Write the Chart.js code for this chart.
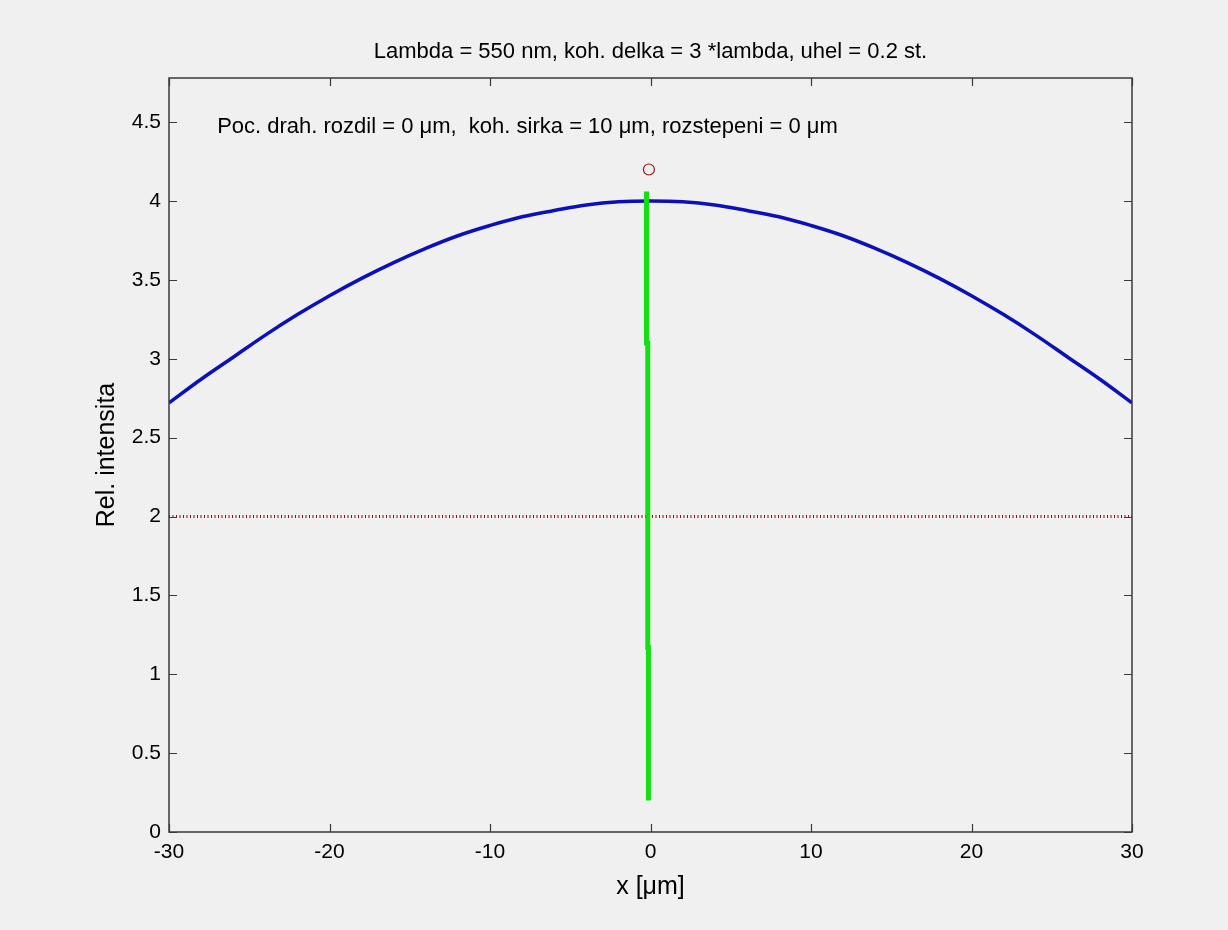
<!DOCTYPE html>
<html>
<head>
<meta charset="utf-8">
<script src="https://cdn.jsdelivr.net/npm/chart.js@4"></script>
<style>
html,body{margin:0;padding:0;background:#f0f0f0;}
canvas{display:block;}
</style>
</head>
<body>
<canvas id="c" width="1228" height="930"></canvas>
<script>
// ---- data ----
const titleText = "Lambda = 550 nm, koh. delka = 3 *lambda, uhel = 0.2 st.";
const noteText = "Poc. drah. rozdil = 0 \u03bcm,  koh. sirka = 10 \u03bcm, rozstepeni = 0 \u03bcm";
const xTicks = [-30, -20, -10, 0, 10, 20, 30];
const yTicks = [0, 0.5, 1, 1.5, 2, 2.5, 3, 3.5, 4, 4.5];
const curveX = [-30, -28, -26, -24, -22, -20, -18, -16, -14, -12, -10, -8, -6, -4, -2, 0, 2, 4, 6, 8, 10, 12, 14, 16, 18, 20, 22, 24, 26, 28, 30];
const curveY = [2.72, 2.87, 3.01, 3.15, 3.28, 3.40, 3.51, 3.61, 3.70, 3.78, 3.845, 3.90, 3.94, 3.975, 3.995, 4.00, 3.995, 3.975, 3.94, 3.90, 3.845, 3.78, 3.70, 3.61, 3.51, 3.40, 3.28, 3.15, 3.01, 2.87, 2.72];
const greenX = [-0.25, -0.25, -0.17, -0.17, -0.13, -0.13];
const greenY = [4.06, 3.10, 3.10, 1.17, 1.17, 0.20];
const levelX = [-30, 30];
const levelY = [2, 2];
const markX = [-0.1];
const markY = [4.2];

const toPts = (xs, ys) => xs.map((x, i) => ({x: x, y: ys[i]}));

const FONT = "'Liberation Sans', Arial, Helvetica, sans-serif";

const boxPlugin = {
  id: 'box',
  afterDatasetsDraw(chart) {
    const ctx = chart.ctx, a = chart.chartArea;
    const xs = chart.scales.x, ys = chart.scales.y;
    ctx.save();
    ctx.strokeStyle = '#3a3a3a';
    ctx.lineWidth = 1.5;
    ctx.strokeRect(a.left, a.top, a.right - a.left, a.bottom - a.top);
    ctx.lineWidth = 1.2;
    const tl = 8;
    ctx.beginPath();
    xTicks.forEach(v => {
      const px = Math.round(xs.getPixelForValue(v)) + 0.5;
      ctx.moveTo(px, a.bottom); ctx.lineTo(px, a.bottom - tl);
      ctx.moveTo(px, a.top); ctx.lineTo(px, a.top + tl);
    });
    yTicks.forEach(v => {
      const py = Math.round(ys.getPixelForValue(v)) + 0.5;
      ctx.moveTo(a.left, py); ctx.lineTo(a.left + tl, py);
      ctx.moveTo(a.right, py); ctx.lineTo(a.right - tl, py);
    });
    ctx.stroke();
    // title and note text
    ctx.fillStyle = '#000';
    ctx.font = "22px " + FONT;
    ctx.textAlign = 'center';
    ctx.textBaseline = 'middle';
    ctx.fillText(titleText, (a.left + a.right) / 2, 52);
    ctx.textAlign = 'left';
    ctx.fillText(noteText, xs.getPixelForValue(-27.0), ys.getPixelForValue(4.47));
    ctx.restore();
  }
};

new Chart(document.getElementById('c'), {
  type: 'scatter',
  data: {
    datasets: [
      {
        label: 'intensita',
        data: toPts(curveX, curveY),
        showLine: true,
        borderColor: '#0c10b8',
        borderWidth: 3.5,
        pointRadius: 0,
        tension: 0.4,
        order: 3
      },
      {
        label: 'uroven',
        data: toPts(levelX, levelY),
        showLine: true,
        borderColor: '#8a0c0c',
        borderWidth: 3,
        borderDash: [1, 2.5],
        pointRadius: 0,
        order: 2
      },
      {
        label: 'stred',
        data: toPts(greenX, greenY),
        showLine: true,
        borderColor: '#12e012',
        borderWidth: 5,
        pointRadius: 0,
        order: 1
      },
      {
        label: 'max',
        data: toPts(markX, markY),
        showLine: false,
        pointStyle: 'circle',
        pointRadius: 5.5,
        pointBorderColor: '#a01010',
        pointBackgroundColor: 'rgba(0,0,0,0)',
        pointBorderWidth: 1.2,
        order: 0
      }
    ]
  },
  options: {
    responsive: false,
    animation: false,
    events: [],
    layout: { padding: { left: 88, right: 96, top: 78, bottom: 18 } },
    plugins: { legend: { display: false }, title: { display: false }, tooltip: { enabled: false } },
    scales: {
      x: {
        type: 'linear',
        min: -30, max: 30,
        afterFit(s) { s.height = 80; },
        afterBuildTicks(s) { s.ticks = xTicks.map(v => ({value: v})); },
        grid: { display: false, drawTicks: false },
        border: { display: false },
        ticks: { color: '#000', font: { family: FONT, size: 21 }, padding: 8, maxRotation: 0, autoSkip: false,
                 callback: v => String(v) },
        title: { display: true, text: 'x [\u03bcm]', color: '#000', font: { family: FONT, size: 25 }, padding: { top: 0, bottom: 10 } }
      },
      y: {
        type: 'linear',
        min: 0, max: 4.78,
        afterFit(s) { s.width = 81; },
        afterBuildTicks(s) { s.ticks = yTicks.map(v => ({value: v})); },
        grid: { display: false, drawTicks: false },
        border: { display: false },
        ticks: { color: '#000', font: { family: FONT, size: 21 }, padding: 8, autoSkip: false,
                 callback: v => String(v) },
        title: { display: true, text: 'Rel. intensita', color: '#000', font: { family: FONT, size: 25 }, padding: { top: 4, bottom: 0 } }
      }
    }
  },
  plugins: [boxPlugin]
});
</script>
</body>
</html>
